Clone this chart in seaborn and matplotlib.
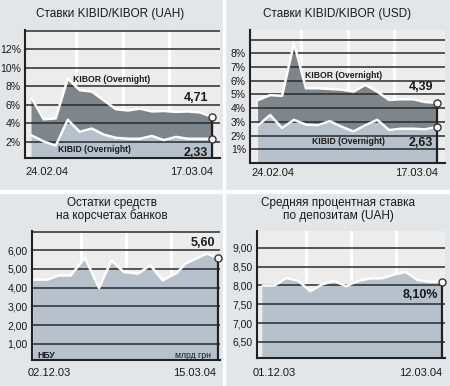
import matplotlib
matplotlib.use("Agg")
import pandas as pd
import matplotlib.pyplot as plt
import seaborn as sns
from matplotlib.patches import Rectangle

sns.set_style("white")
plt.rcParams["font.family"] = ["Liberation Sans", "DejaVu Sans"]

# ---------------- data ----------------
top_dates = ["24.02.04", "25.02.04", "26.02.04", "27.02.04", "01.03.04", "02.03.04",
             "03.03.04", "04.03.04", "05.03.04", "09.03.04", "10.03.04", "11.03.04",
             "12.03.04", "15.03.04", "16.03.04", "17.03.04"]
kibor_uah = [6.7, 4.45, 4.55, 8.85, 7.6, 7.45, 6.5, 5.55, 5.4, 5.6, 5.3, 5.35, 5.25, 5.3, 5.2, 4.71]
kibid_uah = [2.7, 2.05, 1.6, 4.4, 3.1, 3.45, 2.8, 2.45, 2.35, 2.35, 2.65, 2.2, 2.55, 2.35, 2.35, 2.33]
kibor_usd = [4.6, 4.95, 4.9, 8.75, 5.45, 5.45, 5.4, 5.35, 5.2, 5.7, 5.2, 4.6, 4.65, 4.65, 4.45, 4.39]
kibid_usd = [2.75, 3.5, 2.55, 3.15, 2.8, 2.75, 3.05, 2.65, 2.3, 2.75, 3.15, 2.4, 2.5, 2.5, 2.45, 2.63]

nbu_dates = ["02.12.03", "10.12.03", "16.12.03", "23.12.03", "31.12.03", "08.01.04",
             "15.01.04", "22.01.04", "30.01.04", "06.02.04", "13.02.04", "21.02.04",
             "26.02.04", "04.03.04", "09.03.04", "15.03.04"]
nbu_balance = [4.43, 4.43, 4.65, 4.65, 5.6, 3.98, 5.45, 4.84, 4.75, 5.2, 4.39, 4.79, 5.3, 5.6, 5.82, 5.6]

dep_rate = [8.0, 8.0, 8.2, 8.12, 7.85, 8.03, 8.12, 7.98, 8.12, 8.19, 8.19, 8.29, 8.36, 8.14, 8.1, 8.1]

# ---------------- style ----------------
FIG_BG = "#e3e6e9"
AX_BG = "#ececec"
DARK_FILL = "#7e858b"
LIGHT_FILL = "#b6c1cb"
GRID = "#2a2a2a"
TXT = "#1a1a1a"

TITLE_FS = 8.5
DATE_FS = 8
TICK_FS = 7.5
VAL_FS = 9
SER_FS = 6.2

W, H = 450, 386
fig = plt.figure(figsize=(4.5, 3.86), dpi=100, facecolor=FIG_BG)

# white separators between the four blocks
fig.add_artist(Rectangle((222.5 / W, 0), 2.5 / W, 1, transform=fig.transFigure, color="white", zorder=0))
fig.add_artist(Rectangle((0, 1 - 193 / H), 1, 3 / H, transform=fig.transFigure, color="white", zorder=0))


def add_ax(l, t, r, b):
    return fig.add_axes([l / W, 1 - b / H, (r - l) / W, (b - t) / H])


def ftext(x, y, s, **kw):
    kw.setdefault("color", TXT)
    fig.text(x / W, 1 - y / H, s, va="center", **kw)


def base(ax, xlim, ylim, grid, labels):
    ax.set_facecolor(AX_BG)
    ax.set_xlim(*xlim)
    ax.set_ylim(*ylim)
    for xf in (0.26, 0.5, 0.74):
        ax.plot([xf, xf], [0, 1], transform=ax.transAxes, color="white", lw=2.2, zorder=0.5)
    for g in grid:
        ax.axhline(g, color=GRID, lw=1.1, zorder=2)
    ax.set_yticks(list(labels.keys()))
    ax.set_yticklabels(list(labels.values()))
    ax.set_xticks([])
    ax.tick_params(axis="y", length=0, pad=3, labelsize=TICK_FS, labelcolor=TXT)
    for s in ("top", "right"):
        ax.spines[s].set_visible(False)
    for s in ("left", "bottom"):
        ax.spines[s].set_color("#222222")
        ax.spines[s].set_linewidth(1.5)
        ax.spines[s].set_zorder(5)


def end_marker(ax, x, ytop, ylo, points):
    ax.plot([x, x], [ylo, ytop], color="#222222", lw=1.6, zorder=4)
    ax.scatter([x] * len(points), points, s=26, facecolor="white", edgecolor="#333333",
               linewidth=1.0, zorder=6, clip_on=False)


def top_panel(ax, hi, lo, xlim, ylim, grid, labels):
    x = list(range(len(hi)))
    base(ax, xlim, ylim, grid, labels)
    ax.fill_between(x, ylim[0], lo, color=LIGHT_FILL, zorder=1)
    ax.fill_between(x, lo, hi, color=DARK_FILL, zorder=1)
    sns.lineplot(x=x, y=hi, color="white", lw=1.8, ax=ax, zorder=3)
    sns.lineplot(x=x, y=lo, color="white", lw=1.8, ax=ax, zorder=3)
    end_marker(ax, x[-1], hi[-1], ylim[0], [hi[-1], lo[-1]])


# ---------- panel 1: KIBID/KIBOR UAH ----------
ax1 = add_ax(25, 30, 220, 158)
top_panel(ax1, kibor_uah, kibid_uah, (-0.56, 15.67), (0.27, 14.1),
          [2, 4, 6, 8, 10, 12, 14], {v: f"{v}%" for v in [2, 4, 6, 8, 10, 12]})
ftext(110, 14, "Ставки KIBID/KIBOR (UAH)", ha="center", fontsize=TITLE_FS)
ftext(73, 79, "KIBOR (Overnight)", ha="left", fontsize=SER_FS, fontweight="bold")
ftext(58, 149, "KIBID (Overnight)", ha="left", fontsize=SER_FS, fontweight="bold")
ftext(208, 98, "4,71", ha="right", fontsize=VAL_FS, fontweight="bold")
ftext(208, 153, "2,33", ha="right", fontsize=VAL_FS, fontweight="bold")
ftext(25, 172, top_dates[0], ha="left", fontsize=DATE_FS)
ftext(213, 172, top_dates[-1], ha="right", fontsize=DATE_FS)

# ---------- panel 2: KIBID/KIBOR USD ----------
ax2 = add_ax(250, 30, 445, 163)
top_panel(ax2, kibor_usd, kibid_usd, (-0.70, 15.7), (0.0, 9.7),
          [1, 2, 3, 4, 5, 6, 7, 8, 9], {v: f"{v}%" for v in range(1, 9)})
ftext(337, 14, "Ставки KIBID/KIBOR (USD)", ha="center", fontsize=TITLE_FS)
ftext(305, 76, "KIBOR (Overnight)", ha="left", fontsize=SER_FS, fontweight="bold")
ftext(312, 142, "KIBID (Overnight)", ha="left", fontsize=SER_FS, fontweight="bold")
ftext(433, 87, "4,39", ha="right", fontsize=VAL_FS, fontweight="bold")
ftext(433, 143, "2,63", ha="right", fontsize=VAL_FS, fontweight="bold")
ftext(251, 173, top_dates[0], ha="left", fontsize=DATE_FS)
ftext(438, 173, top_dates[-1], ha="right", fontsize=DATE_FS)

# ---------- panel 3: NBU correspondent accounts ----------
ax3 = add_ax(32, 231, 220, 360)
d3 = pd.to_datetime(nbu_dates, format="%d.%m.%y")
x3 = (d3 - d3[0]).days.tolist()
base(ax3, (-0.9, x3[-1] + 1.4), (0.13, 7.03), [1, 2, 3, 4, 5, 6, 7],
     {v: f"{v},00" for v in range(1, 7)})
ax3.fill_between(x3, 0.13, nbu_balance, color=LIGHT_FILL, zorder=1)
sns.lineplot(x=x3, y=nbu_balance, color="white", lw=1.8, ax=ax3, zorder=3)
end_marker(ax3, x3[-1], nbu_balance[-1], 0.13, [nbu_balance[-1]])
ftext(112, 203, "Остатки средств", ha="center", fontsize=TITLE_FS)
ftext(112, 216, "на корсчетах банков", ha="center", fontsize=TITLE_FS)
ftext(215, 243, "5,60", ha="right", fontsize=VAL_FS, fontweight="bold")
ftext(37, 355, "НБУ", ha="left", fontsize=6.2, fontweight="bold")
ftext(211, 355, "млрд грн", ha="right", fontsize=6.2)
ftext(28, 373, nbu_dates[0], ha="left", fontsize=DATE_FS)
ftext(216, 373, nbu_dates[-1], ha="right", fontsize=DATE_FS)

# ---------- panel 4: average deposit rate ----------
ax4 = add_ax(257, 231, 445, 358)
x4 = list(range(len(dep_rate)))
base(ax4, (-0.47, 15.28), (6.07, 9.45), [6.5, 7.0, 7.5, 8.0, 8.5, 9.0],
     {v: f"{v:.2f}".replace(".", ",") for v in [6.5, 7.0, 7.5, 8.0, 8.5, 9.0]})
ax4.fill_between(x4, 6.07, dep_rate, color=LIGHT_FILL, zorder=1)
sns.lineplot(x=x4, y=dep_rate, color="white", lw=1.8, ax=ax4, zorder=3)
end_marker(ax4, x4[-1], dep_rate[-1], 6.07, [dep_rate[-1]])
ftext(338, 203, "Средняя процентная ставка", ha="center", fontsize=TITLE_FS)
ftext(338, 216, "по депозитам (UAH)", ha="center", fontsize=TITLE_FS)
ftext(438, 295, "8,10%", ha="right", fontsize=VAL_FS, fontweight="bold")
ftext(253, 373, "01.12.03", ha="left", fontsize=DATE_FS)
ftext(442, 373, "12.03.04", ha="right", fontsize=DATE_FS)

fig.savefig("out.png", dpi=100, facecolor=FIG_BG)
